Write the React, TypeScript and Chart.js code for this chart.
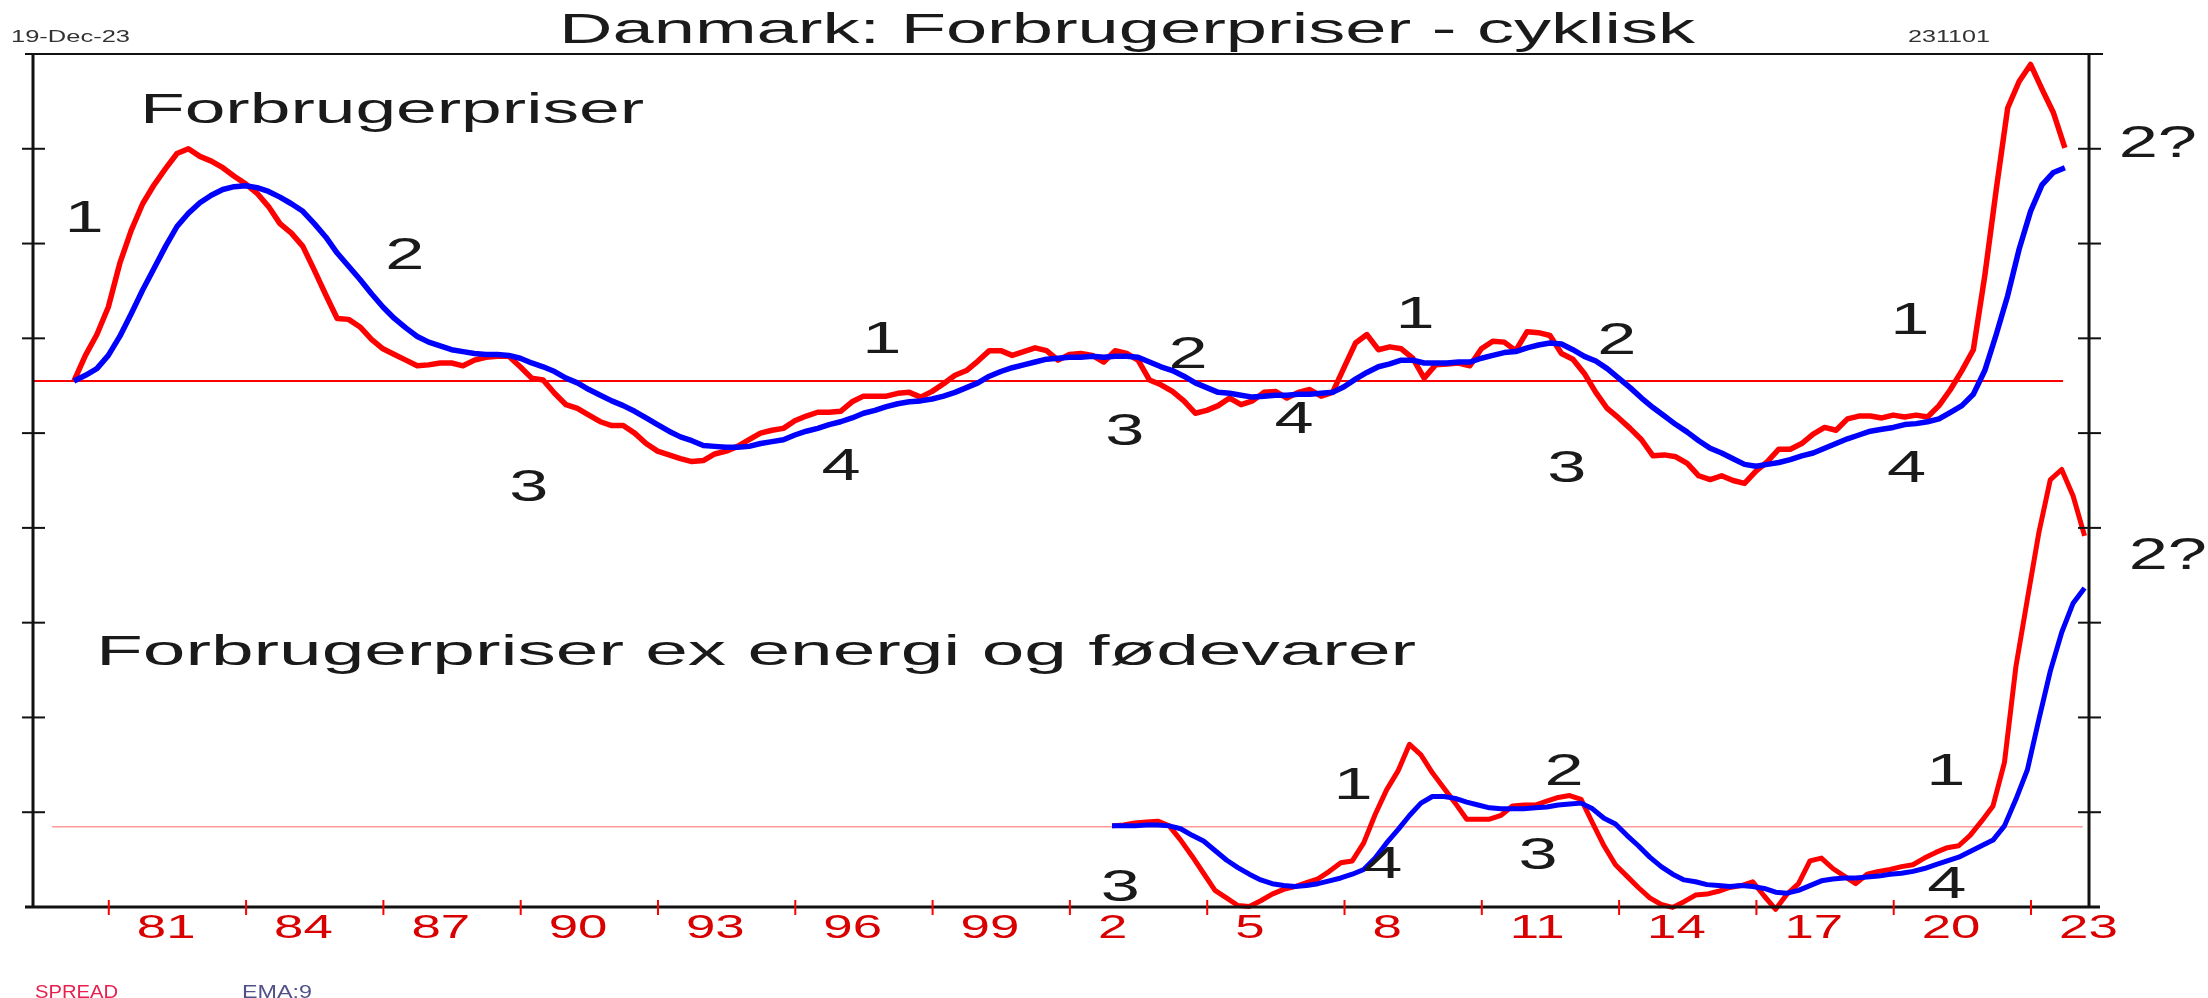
import React, { useEffect, useRef } from 'react';
import { Chart, registerables } from 'chart.js';

Chart.register(...registerables);

// ---------- data (values in axis-tick units, relative to each panel's zero line) ----------
const TOP_START = 1980.24; // first quarter shown in the upper panel
const LOW_START = 2002.92; // first quarter shown in the lower panel
const STEP = 0.25; // quarterly observations

const TOP_RED = [
  0.0, 0.27, 0.49, 0.78, 1.24, 1.59, 1.87, 2.07, 2.24, 2.4,
  2.45, 2.37, 2.32, 2.25, 2.16, 2.08, 1.98, 1.84, 1.66, 1.56,
  1.42, 1.17, 0.91, 0.66, 0.65, 0.57, 0.44, 0.34, 0.28, 0.22,
  0.16, 0.17, 0.19, 0.19, 0.16, 0.22, 0.25, 0.26, 0.26, 0.15,
  0.03, 0.01, -0.13, -0.25, -0.29, -0.36, -0.43, -0.47, -0.47, -0.55,
  -0.66, -0.74, -0.78, -0.82, -0.85, -0.84, -0.77, -0.74, -0.69, -0.62,
  -0.55, -0.52, -0.5, -0.42, -0.37, -0.33, -0.33, -0.32, -0.22, -0.16,
  -0.16, -0.16, -0.13, -0.12, -0.17, -0.11, -0.03, 0.06, 0.11, 0.21,
  0.32, 0.32, 0.27, 0.31, 0.35, 0.32, 0.22, 0.28, 0.29, 0.27,
  0.2, 0.32, 0.29, 0.22, 0.01, -0.04, -0.11, -0.21, -0.34, -0.31,
  -0.26, -0.18, -0.25, -0.21, -0.12, -0.11, -0.18, -0.12, -0.09, -0.16,
  -0.12, 0.14, 0.4, 0.49, 0.33, 0.36, 0.34, 0.24, 0.03, 0.17,
  0.18, 0.19, 0.16, 0.34, 0.42, 0.41, 0.32, 0.52, 0.51, 0.48,
  0.29, 0.23, 0.08, -0.12, -0.29, -0.39, -0.5, -0.62, -0.79, -0.78,
  -0.8, -0.87, -1.0, -1.04, -1.0, -1.05, -1.08, -0.95, -0.85, -0.72,
  -0.72, -0.66, -0.56, -0.49, -0.52, -0.4, -0.37, -0.37, -0.39, -0.36,
  -0.38, -0.36, -0.38, -0.26, -0.09, 0.11, 0.33, 1.11, 2.02, 2.88,
  3.16, 3.34, 3.08, 2.83, 2.46,
];

const TOP_BLUE = [
  0.0, 0.06, 0.13, 0.27, 0.47, 0.71, 0.96, 1.19, 1.42, 1.63,
  1.77, 1.88, 1.96, 2.02, 2.05, 2.06, 2.04, 2.0, 1.94, 1.87,
  1.79, 1.66, 1.52, 1.35, 1.21, 1.07, 0.92, 0.78, 0.66, 0.56,
  0.47, 0.41, 0.37, 0.33, 0.31, 0.29, 0.28, 0.28, 0.27, 0.24,
  0.19, 0.15, 0.1, 0.03, -0.02, -0.09, -0.15, -0.21, -0.26, -0.32,
  -0.39, -0.46, -0.53, -0.59, -0.63, -0.68, -0.69, -0.7, -0.7, -0.69,
  -0.66, -0.64, -0.62, -0.57, -0.53, -0.5, -0.46, -0.43, -0.39, -0.34,
  -0.31, -0.27, -0.24, -0.22, -0.21, -0.19, -0.16, -0.12, -0.07, -0.02,
  0.05, 0.1, 0.14, 0.17, 0.2, 0.23, 0.24, 0.25, 0.25, 0.26,
  0.25, 0.26, 0.26, 0.25, 0.2, 0.15, 0.11, 0.05, -0.02, -0.07,
  -0.12, -0.13, -0.15, -0.17, -0.16, -0.15, -0.15, -0.14, -0.14, -0.13,
  -0.12, -0.06, 0.02, 0.09, 0.15, 0.18, 0.22, 0.22, 0.19, 0.19,
  0.19, 0.2, 0.2, 0.24, 0.27, 0.3, 0.31, 0.35, 0.38, 0.4,
  0.39, 0.33, 0.26, 0.21, 0.13, 0.03, -0.07, -0.18, -0.28, -0.37,
  -0.46, -0.54, -0.63, -0.71, -0.76, -0.82, -0.88, -0.9, -0.88, -0.86,
  -0.83, -0.79, -0.76, -0.71, -0.66, -0.61, -0.57, -0.53, -0.51, -0.49,
  -0.46, -0.45, -0.43, -0.4, -0.33, -0.26, -0.14, 0.11, 0.49, 0.9,
  1.39, 1.79, 2.07, 2.2, 2.25,
];

const LOW_RED = [
  0.01, 0.02, 0.04, 0.05, 0.06, 0.01, -0.14, -0.31, -0.49, -0.67,
  -0.75, -0.83, -0.84, -0.78, -0.71, -0.66, -0.63, -0.59, -0.55, -0.47,
  -0.38, -0.36, -0.17, 0.13, 0.39, 0.59, 0.87, 0.76, 0.57, 0.41,
  0.25, 0.08, 0.08, 0.08, 0.12, 0.22, 0.23, 0.23, 0.27, 0.31,
  0.33, 0.29, 0.04, -0.2, -0.4, -0.52, -0.64, -0.75, -0.82, -0.85,
  -0.79, -0.72, -0.71, -0.68, -0.64, -0.62, -0.58, -0.73, -0.87, -0.71,
  -0.6, -0.36, -0.33, -0.44, -0.52, -0.6, -0.5, -0.47, -0.45, -0.42,
  -0.4, -0.33, -0.27, -0.22, -0.2, -0.09, 0.06, 0.22, 0.68, 1.69,
  2.4, 3.1, 3.66, 3.77, 3.49, 3.07,
];

const LOW_BLUE = [
  0.01, 0.01, 0.01, 0.02, 0.02, 0.01, -0.02, -0.09, -0.15, -0.25,
  -0.35, -0.43, -0.5, -0.56, -0.6, -0.62, -0.63, -0.62, -0.6, -0.57,
  -0.54, -0.5, -0.45, -0.33, -0.17, -0.03, 0.12, 0.25, 0.32, 0.32,
  0.3, 0.26, 0.23, 0.2, 0.19, 0.19, 0.19, 0.2, 0.21, 0.23,
  0.24, 0.25, 0.19, 0.09, 0.03, -0.09, -0.2, -0.32, -0.42, -0.5,
  -0.56, -0.58, -0.61, -0.62, -0.63, -0.62, -0.63, -0.65, -0.69, -0.7,
  -0.67, -0.62, -0.57, -0.55, -0.54, -0.54, -0.53, -0.52, -0.5, -0.49,
  -0.47, -0.44, -0.4, -0.36, -0.32, -0.26, -0.2, -0.14, 0.01, 0.29,
  0.6, 1.13, 1.64, 2.05, 2.36, 2.52,
];

const TICK_YEARS = [1981, 1984, 1987, 1990, 1993, 1996, 1999, 2002, 2005, 2008, 2011, 2014, 2017, 2020, 2023];
const TICK_LABELS = ['81', '84', '87', '90', '93', '96', '99', '2', '5', '8', '11', '14', '17', '20', '23'];
const Y_TICKS = [1, 2, 3, 4, 5, 6, 7, 8];

// cycle-phase annotations: text, year, baseline level (axis units)
const PHASE_TEXT = ['1', '2', '3', '4', '1', '2', '3', '4', '1', '2', '3', '1', '4', '2?', '3', '1', '4', '2', '3', '1', '4', '2?'];
const PHASE_YEAR = [1980.46, 1987.47, 1990.18, 1997.0, 1997.89, 2004.58, 2003.2, 2006.9, 2009.54, 2013.95, 2012.86, 2020.35, 2020.28, 2025.77, 2003.1, 2008.19, 2008.84, 2012.8, 2012.23, 2021.14, 2021.16, 2025.99];
const PHASE_LEVEL = [7.12, 6.73, 4.28, 4.51, 5.84, 5.69, 4.87, 5.0, 6.11, 5.83, 4.48, 6.05, 4.48, 7.91, 0.06, 1.14, 0.31, 1.29, 0.4, 1.29, 0.09, 3.57];

// ---------- layout constants ----------
const W = 2208;
const H = 998;
const X_MIN = 1979.344;
const X_MAX = 2024.267;
const TOP_ZERO = 5.55;
const LOW_ZERO = 0.846;
const FONT = '"Liberation Sans", Arial, sans-serif';

function drawText(
  ctx: CanvasRenderingContext2D,
  text: string,
  x: number,
  baseline: number,
  size: number,
  color: string,
  opts: { width?: number; scale?: number; align?: CanvasTextAlign } = {}
) {
  ctx.save();
  ctx.font = `${size}px ${FONT}`;
  ctx.fillStyle = color;
  ctx.textBaseline = 'alphabetic';
  ctx.textAlign = opts.align || 'left';
  const m = ctx.measureText(text).width;
  const sx = opts.width ? opts.width / m : opts.scale || 1;
  ctx.translate(x, baseline);
  ctx.scale(sx, 1);
  ctx.fillText(text, 0, 0);
  ctx.restore();
}

function line(ctx: CanvasRenderingContext2D, x1: number, y1: number, x2: number, y2: number) {
  ctx.beginPath();
  ctx.moveTo(x1, y1);
  ctx.lineTo(x2, y2);
  ctx.stroke();
}

const framePlugin = {
  id: 'frame',
  beforeDraw(chart: any) {
    const ctx = chart.ctx as CanvasRenderingContext2D;
    ctx.save();
    ctx.fillStyle = '#ffffff';
    ctx.fillRect(0, 0, chart.width, chart.height);
    ctx.restore();
  },
  afterDraw(chart: any) {
    const ctx = chart.ctx as CanvasRenderingContext2D;
    const a = chart.chartArea;
    const xs = chart.scales.x;
    const ys = chart.scales.y;
    ctx.save();
    ctx.lineCap = 'butt';
    ctx.strokeStyle = '#111111';
    ctx.lineWidth = 2;
    line(ctx, a.left - 8, a.top, a.right + 14, a.top);
    ctx.lineWidth = 3;
    line(ctx, a.left, a.top, a.left, a.bottom);
    line(ctx, a.right, a.top, a.right, a.bottom);
    line(ctx, a.left - 8, a.bottom, a.right + 11, a.bottom);
    ctx.lineWidth = 2;
    Y_TICKS.forEach((v) => {
      const py = ys.getPixelForValue(v);
      line(ctx, a.left - 11, py, a.left + 12, py);
      line(ctx, a.right - 11, py, a.right + 12, py);
    });
    ctx.strokeStyle = '#ff0000';
    ctx.lineWidth = 2;
    TICK_YEARS.forEach((yr, i) => {
      const px = xs.getPixelForValue(yr);
      line(ctx, px, a.bottom - 7, px, a.bottom + 8);
      drawText(ctx, TICK_LABELS[i], px + 28, a.bottom + 31, 33, '#d80000', { scale: 1.6 });
    });
    ctx.restore();

    // header texts
    drawText(ctx, '19-Dec-23', 11, 42, 17, '#333333', { width: 119 });
    drawText(ctx, 'Danmark: Forbrugerpriser - cyklisk', 559, 43, 43, '#1a1a1a', { width: 1136 });
    drawText(ctx, '231101', 1908, 42, 17, '#333333', { width: 82 });
    // panel titles
    drawText(ctx, 'Forbrugerpriser', 140, 123, 43, '#1a1a1a', { width: 504 });
    drawText(ctx, 'Forbrugerpriser ex energi og fødevarer', 96, 665, 42, '#1a1a1a', { width: 1320 });
    // phase annotations
    PHASE_TEXT.forEach((t, i) => {
      const px = xs.getPixelForValue(PHASE_YEAR[i]);
      const py = ys.getPixelForValue(PHASE_LEVEL[i]);
      drawText(ctx, t, px, py, 44, '#1a1a1a', { scale: 1.6, align: 'center' });
    });
    // legend
    drawText(ctx, 'SPREAD', 35, 998, 18, '#e8204e', { width: 83 });
    drawText(ctx, 'EMA:9', 242, 998, 18, '#50508a', { width: 70 });
  },
};

function series(values: number[], start: number, offset: number) {
  return values.map((v, i) => ({ x: start + i * STEP, y: v + offset }));
}

export default function App() {
  const ref = useRef<HTMLCanvasElement>(null);
  useEffect(() => {
    document.body.style.margin = '0';
    const canvas = ref.current;
    if (!canvas) return;
    const topEnd = TOP_START + (TOP_RED.length - 1) * STEP;
    const lowEnd = LOW_START + (LOW_RED.length - 1) * STEP;
    const common = { pointRadius: 0, pointHoverRadius: 0, tension: 0, fill: false, clip: false as any, borderJoinStyle: 'round' as const };
    const chart = new Chart(canvas, {
      type: 'line',
      data: {
        datasets: [
          { ...common, label: 'nul', data: [{ x: X_MIN, y: TOP_ZERO }, { x: topEnd - 0.04, y: TOP_ZERO }], borderColor: '#ff0000', borderWidth: 2, order: 3 },
          { ...common, label: 'nul ex', data: [{ x: 1979.76, y: LOW_ZERO }, { x: lowEnd - 0.04, y: LOW_ZERO }], borderColor: '#ff9a9a', borderWidth: 1.5, order: 3 },
          { ...common, label: 'SPREAD', data: series(TOP_RED, TOP_START, TOP_ZERO), borderColor: '#ff0000', borderWidth: 5.5, order: 2 },
          { ...common, label: 'EMA:9', data: series(TOP_BLUE, TOP_START, TOP_ZERO), borderColor: '#0000ff', borderWidth: 5.5, order: 1 },
          { ...common, label: 'SPREAD ex', data: series(LOW_RED, LOW_START, LOW_ZERO), borderColor: '#ff0000', borderWidth: 5, order: 2 },
          { ...common, label: 'EMA:9 ex', data: series(LOW_BLUE, LOW_START, LOW_ZERO), borderColor: '#0000ff', borderWidth: 5, order: 1 },
        ],
      },
      options: {
        responsive: false,
        animation: false,
        devicePixelRatio: 1,
        events: [],
        layout: { padding: { left: 33, right: W - 2089, top: 54, bottom: H - 907 } },
        scales: {
          x: { type: 'linear', display: false, min: X_MIN, max: X_MAX },
          y: { type: 'linear', display: false, min: 0, max: 9 },
        },
        plugins: { legend: { display: false }, tooltip: { enabled: false }, title: { display: false } },
      },
      plugins: [framePlugin],
    });
    return () => chart.destroy();
  }, []);
  return (
    <div style={{ position: 'absolute', left: 0, top: 0, width: W, height: H, background: '#fff' }}>
      <canvas ref={ref} width={W} height={H} style={{ display: 'block', width: W, height: H }} />
    </div>
  );
}
